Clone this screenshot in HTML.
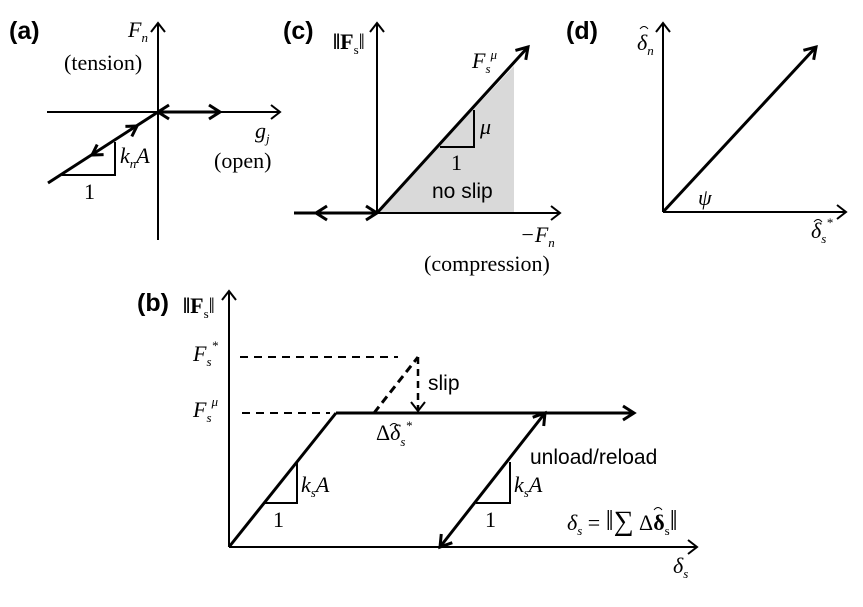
<!DOCTYPE html>
<html><head><meta charset="utf-8"><style>
html,body{margin:0;padding:0;background:#fff;}
svg{display:block;}
.m{font-family:"Liberation Serif",serif;font-style:italic;font-size:22px;}
.r{font-family:"Liberation Serif",serif;font-size:22px;}
.s{font-family:"Liberation Sans",sans-serif;font-size:21px;}
.b{font-family:"Liberation Sans",sans-serif;font-size:25px;font-weight:bold;}
.sub{font-size:13px;}
</style></head><body>
<svg width="863" height="607" viewBox="0 0 863 607" xmlns="http://www.w3.org/2000/svg">
<defs>
<marker id="a" markerUnits="userSpaceOnUse" markerWidth="30" markerHeight="30" refX="0" refY="0" viewBox="-15 -15 30 30" orient="auto-start-reverse" overflow="visible">
<path d="M-11,-7 L0,0 L-11,7" fill="none" stroke="#000" stroke-width="3"/>
</marker>
<marker id="t" markerUnits="userSpaceOnUse" markerWidth="30" markerHeight="30" refX="0" refY="0" viewBox="-15 -15 30 30" orient="auto-start-reverse" overflow="visible">
<path d="M-9,-7 L0,0 L-9,7" fill="none" stroke="#000" stroke-width="2"/>
</marker>
</defs>
<g stroke="#000" fill="none">
<!-- (a) -->
<line x1="158" y1="240" x2="158" y2="23" stroke-width="2" marker-end="url(#t)"/>
<line x1="47" y1="112" x2="280" y2="112" stroke-width="2" marker-end="url(#t)"/>
<line x1="158" y1="112" x2="220" y2="112" stroke-width="3" marker-start="url(#a)" marker-end="url(#a)"/>
<line x1="48" y1="183" x2="158" y2="112" stroke-width="3"/>
<polyline points="131.8,136.4 137,126 125.4,126.4" stroke-width="3"/>
<polyline points="103.6,154.6 92,155 97.2,144.6" stroke-width="3"/>
<polyline points="62,175 115,175 115,142" stroke-width="2"/>
<!-- (c) -->
<polygon points="377,213 514,66 514,213" fill="#d9d9d9" stroke="none"/>
<line x1="377" y1="213" x2="377" y2="23" stroke-width="2" marker-end="url(#t)"/>
<line x1="377" y1="213" x2="560" y2="213" stroke-width="2" marker-end="url(#t)"/>
<line x1="294" y1="213" x2="377" y2="213" stroke-width="3" marker-end="url(#a)"/>
<polyline points="327,206 316,213 327,220" stroke-width="3"/>
<line x1="377" y1="213" x2="528" y2="47" stroke-width="3" marker-end="url(#a)"/>
<polyline points="440,147 474,147 474,110" stroke-width="2"/>
<!-- (d) -->
<line x1="663" y1="212" x2="663" y2="23" stroke-width="2" marker-end="url(#t)"/>
<line x1="663" y1="212" x2="846" y2="212" stroke-width="2" marker-end="url(#t)"/>
<line x1="663" y1="212" x2="816" y2="47" stroke-width="3" marker-end="url(#a)"/>
<!-- (b) -->
<line x1="229" y1="547" x2="229" y2="291" stroke-width="2" marker-end="url(#t)"/>
<line x1="229" y1="547" x2="697" y2="547" stroke-width="2" marker-end="url(#t)"/>
<line x1="229" y1="547" x2="336" y2="413" stroke-width="3"/>
<line x1="336" y1="413" x2="634" y2="413" stroke-width="3" marker-end="url(#a)"/>
<line x1="440" y1="547" x2="545" y2="413" stroke-width="3" marker-start="url(#a)" marker-end="url(#a)"/>
<line x1="240" y1="357" x2="398" y2="357" stroke-width="2" stroke-dasharray="8,6"/>
<line x1="242" y1="413" x2="330" y2="413" stroke-width="2" stroke-dasharray="8,6"/>
<line x1="374" y1="413" x2="418" y2="357" stroke-width="3" stroke-dasharray="8,5"/>
<line x1="418" y1="357" x2="418" y2="411" stroke-width="2.5" stroke-dasharray="7,5" marker-end="url(#t)"/>
<polyline points="265,503 297,503 297,462" stroke-width="2"/>
<polyline points="476,503 510,503 510,462" stroke-width="2"/>
<!-- hats -->
<path d="M640,29 Q644,24 648,29" stroke-width="1"/>
<path d="M814,222 Q818,217 822,222" stroke-width="1"/>
<path d="M390,426 Q394,421 398,426" stroke-width="1"/>
<path d="M654,510 Q658,505 662,510" stroke-width="1"/>
</g>
<g fill="#000">
<text class="b" x="9" y="39">(a)</text>
<text class="b" x="283" y="39">(c)</text>
<text class="b" x="566" y="39">(d)</text>
<text class="b" x="137" y="311">(b)</text>
<!-- (a) labels -->
<text class="m" x="128" y="37">F<tspan class="sub" dy="5">n</tspan></text>
<text class="r" x="64" y="70">(tension)</text>
<text class="m" x="255" y="138">g<tspan class="sub" dy="5">j</tspan></text>
<text class="r" x="214" y="168">(open)</text>
<text class="m" x="120" y="163">k<tspan class="sub" dy="5">n</tspan><tspan dy="-5">A</tspan></text>
<text class="r" x="84" y="199">1</text>
<!-- (c) labels -->
<text class="r" x="333" y="49" font-size="24" font-weight="bold">‖F<tspan class="sub" dy="5" font-weight="normal">s</tspan><tspan dy="-5" font-weight="normal">‖</tspan></text>
<text class="m" x="472" y="68">F<tspan class="sub" dy="5">s</tspan><tspan class="sub" dy="-14">μ</tspan></text>
<text class="m" x="480" y="134">μ</text>
<text class="r" x="451" y="170">1</text>
<text class="s" x="432" y="198">no slip</text>
<text class="m" x="520" y="242">−F<tspan class="sub" dy="5">n</tspan></text>
<text class="r" x="424" y="271">(compression)</text>
<!-- (d) labels -->
<text class="m" x="637" y="50">δ<tspan class="sub" dy="5">n</tspan></text>
<text class="m" x="698" y="205">ψ</text>
<text class="m" x="811" y="238">δ<tspan class="sub" dy="5">s</tspan><tspan class="sub" dy="-16">*</tspan></text>
<!-- (b) labels -->
<text class="r" x="183" y="313" font-size="24" font-weight="bold">‖F<tspan class="sub" dy="5" font-weight="normal">s</tspan><tspan dy="-5" font-weight="normal">‖</tspan></text>
<text class="m" x="193" y="361">F<tspan class="sub" dy="5">s</tspan><tspan class="sub" dy="-16">*</tspan></text>
<text class="m" x="193" y="417">F<tspan class="sub" dy="5">s</tspan><tspan class="sub" dy="-16">μ</tspan></text>
<text class="s" x="428" y="390">slip</text>
<text class="m" x="376" y="440"><tspan font-style="normal">Δ</tspan>δ<tspan class="sub" dy="6">s</tspan><tspan class="sub" dy="-16">*</tspan></text>
<text class="s" x="530" y="464">unload/reload</text>
<text class="m" x="301" y="492">k<tspan class="sub" dy="5">s</tspan><tspan dy="-5">A</tspan></text>
<text class="r" x="273" y="527">1</text>
<text class="m" x="514" y="492">k<tspan class="sub" dy="5">s</tspan><tspan dy="-5">A</tspan></text>
<text class="r" x="485" y="527">1</text>
<text class="m" x="567" y="530">δ<tspan class="sub" dy="5">s</tspan><tspan dy="-5" font-style="normal"> = </tspan><tspan font-style="normal" font-size="28">‖∑</tspan><tspan font-style="normal"> Δ</tspan><tspan font-style="normal" font-weight="bold">δ</tspan><tspan class="sub" dy="5" font-style="normal">s</tspan><tspan dy="-5" font-style="normal" font-size="28">‖</tspan></text>
<text class="m" x="673" y="573">δ<tspan class="sub" dy="5">s</tspan></text>
</g>
</svg>
</body></html>
